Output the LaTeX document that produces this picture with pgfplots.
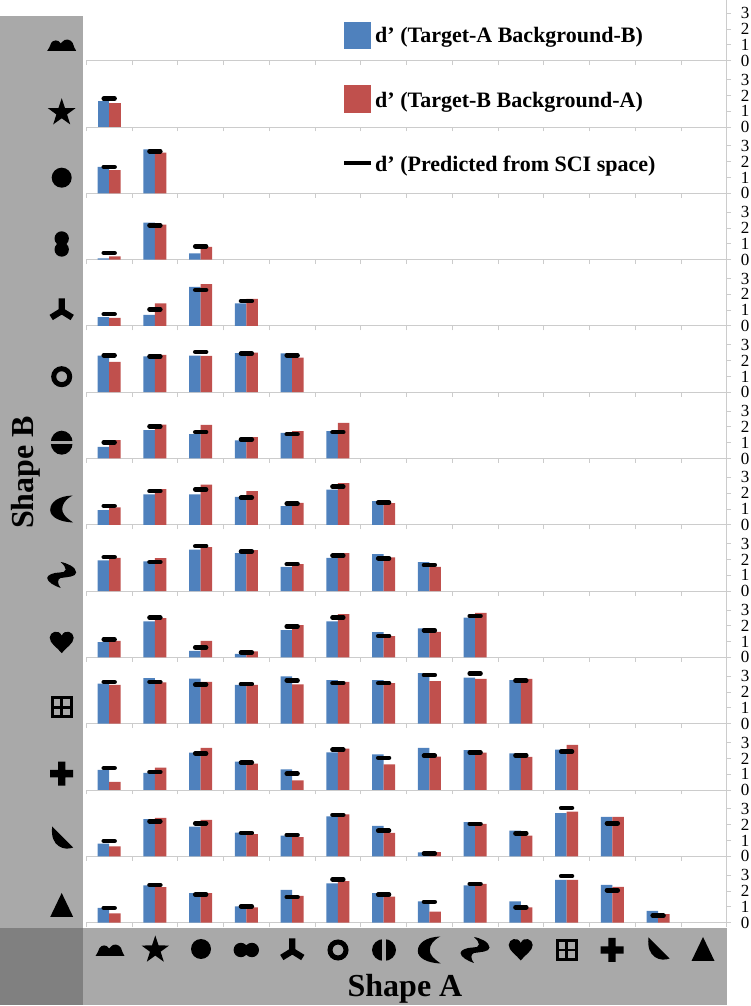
\documentclass[border=0pt]{standalone}
\usepackage{pgfplots}
\usepackage{pgfplotstable}
\usepackage{fontspec}
\setmainfont{Liberation Serif}
\pgfplotsset{compat=1.18}
\definecolor{barblue}{HTML}{4F81BD}
\definecolor{barred}{HTML}{C0504D}
\definecolor{panel}{HTML}{A9A9A9}
\definecolor{paneldark}{HTML}{808080}
\definecolor{axgrey}{HTML}{CCCCCC}

\pgfplotstableread{
x a b p
0.5 1.67 1.50 1.79
}\rowB
\pgfplotstableread{
x a b p
0.5 1.67 1.46 1.67
1.5 2.78 2.57 2.66
}\rowC
\pgfplotstableread{
x a b p
0.5 0.08 0.21 0.42
1.5 2.34 2.22 2.17
2.5 0.40 0.80 0.84
}\rowD
\pgfplotstableread{
x a b p
0.5 0.55 0.51 0.74
1.5 0.70 1.43 1.05
2.5 2.47 2.64 2.28
3.5 1.43 1.71 1.58
}\rowE
\pgfplotstableread{
x a b p
0.5 2.32 1.92 2.34
1.5 2.26 2.36 2.26
2.5 2.32 2.30 2.55
3.5 2.47 2.51 2.45
4.5 2.45 2.19 2.34
}\rowF
\pgfplotstableread{
x a b p
0.5 0.74 1.16 1.03
1.5 1.79 2.15 2.03
2.5 1.54 2.13 1.67
3.5 1.14 1.35 1.20
4.5 1.62 1.73 1.54
5.5 1.73 2.26 1.67
}\rowG
\pgfplotstableread{
x a b p
0.5 0.93 1.10 1.20
1.5 1.92 2.26 2.13
2.5 1.92 2.55 2.24
3.5 1.77 2.13 1.71
4.5 1.18 1.39 1.33
5.5 2.22 2.64 2.41
6.5 1.50 1.37 1.41
}\rowH
\pgfplotstableread{
x a b p
0.5 1.94 2.11 2.15
1.5 1.88 2.09 1.84
2.5 2.62 2.78 2.85
3.5 2.41 2.59 2.51
4.5 1.54 1.71 1.71
5.5 2.11 2.41 2.24
6.5 2.34 2.13 2.07
7.5 1.84 1.54 1.65
}\rowI
\pgfplotstableread{
x a b p
0.5 0.97 1.05 1.14
1.5 2.28 2.49 2.51
2.5 0.42 1.05 0.63
3.5 0.23 0.38 0.32
4.5 1.73 2.05 1.96
5.5 2.28 2.74 2.53
6.5 1.60 1.35 1.35
7.5 1.84 1.62 1.71
8.5 2.51 2.81 2.62
}\rowJ
\pgfplotstableread{
x a b p
0.5 2.53 2.45 2.64
1.5 2.89 2.62 2.64
2.5 2.85 2.64 2.47
3.5 2.45 2.45 2.51
4.5 3.00 2.49 2.74
5.5 2.76 2.64 2.57
6.5 2.76 2.57 2.57
7.5 3.20 2.70 3.08
8.5 2.91 2.83 3.17
9.5 2.76 2.83 2.72
}\rowK
\pgfplotstableread{
x a b p
0.5 1.27 0.51 1.39
1.5 1.08 1.41 1.14
2.5 2.36 2.66 2.32
3.5 1.79 1.67 1.73
4.5 1.31 0.61 1.03
5.5 2.38 2.62 2.55
6.5 2.26 1.62 2.03
7.5 2.66 2.11 2.17
8.5 2.53 2.36 2.38
9.5 2.32 2.09 2.19
10.5 2.55 2.85 2.43
}\rowL
\pgfplotstableread{
x a b p
0.5 0.80 0.63 0.97
1.5 2.36 2.43 2.22
2.5 1.88 2.30 2.09
3.5 1.50 1.41 1.48
4.5 1.31 1.22 1.35
5.5 2.53 2.66 2.62
6.5 1.92 1.48 1.62
7.5 0.25 0.27 0.17
8.5 2.17 2.05 2.05
9.5 1.62 1.31 1.46
10.5 2.74 2.83 3.06
11.5 2.49 2.49 2.09
}\rowM
\pgfplotstableread{
x a b p
0.5 0.93 0.59 0.93
1.5 2.36 2.24 2.38
2.5 1.86 1.86 1.77
3.5 1.03 0.97 1.03
4.5 2.07 1.69 1.62
5.5 2.49 2.62 2.74
6.5 1.86 1.65 1.77
7.5 1.35 0.70 1.31
8.5 2.36 2.45 2.45
9.5 1.35 0.97 0.97
10.5 2.70 2.70 2.95
11.5 2.38 2.26 2.05
12.5 0.74 0.53 0.44
}\rowN

\pgfplotsset{rowstyle/.style={
  scale only axis, width=640.4pt, height=66.3pt,
  anchor=south west,
  xmin=0, xmax=14, ymin=0, ymax=4.196,
  axis x line=bottom, axis y line=right,
  axis line style={-, draw=axgrey, line width=0.9pt},
  xtick={0,...,14}, xticklabels={},
  ytick={0,1,2,3},
  tick align=outside,
  major tick length=4.5pt,
  tick style={draw=axgrey, line width=0.8pt},
  /pgf/number format/assume math mode=true,
  yticklabel style={font=\fontsize{17}{17}\selectfont, text=black, anchor=west, inner sep=0pt, xshift=9.5pt},
  clip=false,
}}
\newcommand{\rowbars}[1]{%
  \addplot[ybar, bar width=11.5pt, bar shift=-5.75pt, fill=barblue, draw=none] table[x=x,y=a] {#1};
  \addplot[ybar, bar width=11.5pt, bar shift=5.75pt, fill=barred, draw=none] table[x=x,y=b] {#1};
  \addplot[only marks, mark=-, mark size=5.4pt, mark options={draw=black, line width=4.6pt, line cap=round}] table[x=x,y=p] {#1};
}

% icons, centred on the origin
\newcommand{\icBumps}{\fill (-14.5,-6) .. controls (-12.5,-4) and (-12,-1) .. (-10.5,2) .. controls (-9,5) and (-3,6) .. (-1,1.5) .. controls (0,3) and (0,3) .. (1,3.5) .. controls (3,6.5) and (9,6) .. (11,2) .. controls (12,-1) and (13,-4) .. (14.5,-6) -- cycle;}
\newcommand{\icStar}{\fill (90:14.5)--(126:5.6)--(162:14.5)--(198:5.6)--(234:14.5)--(270:5.6)--(306:14.5)--(342:5.6)--(18:14.5)--(54:5.6)--cycle;}
\newcommand{\icCircle}{\fill (0,0) circle (10);}
\newcommand{\icDouble}{\fill (-5.5,0) circle (7.2) (5.5,0) circle (7.2);}
\newcommand{\icY}{\draw[line width=6.2pt, line join=round] (0,-1)--(0,11.5) (0,-1)--(-10.5,-7.5) (0,-1)--(10.5,-7.5);}
\newcommand{\icRing}{\draw[line width=5pt] (0,0) circle (8);}
\newcommand{\icHalf}{\fill (0,0) ellipse (12 and 11); \fill[panel] (-1.7,-12) rectangle (1.7,12);}
\newcommand{\icMoon}{\fill (11,13.5) .. controls (-3,13) and (-11.5,7) .. (-11.5,-1) .. controls (-11.5,-8) and (-2,-13) .. (11.5,-13.5) .. controls (3,-8) and (0.5,-4) .. (0.5,0) .. controls (0.5,5) and (4,10) .. (11,13.5) -- cycle;}
\newcommand{\icSquig}{\fill (-1,13) .. controls (5,12) and (14.5,8) .. (14.5,2.5) .. controls (14.5,-2) and (5,-2) .. (-1,-3) .. controls (-4.5,-4) and (-4.5,-9) .. (-1,-13) .. controls (-7,-11) and (-14.5,-7) .. (-14.5,-3) .. controls (-14.5,0) and (-8,2.5) .. (-2,2.5) .. controls (1,2.5) and (4,3) .. (4,5.5) .. controls (4,8) and (2,10) .. (-1,13) -- cycle;}
\newcommand{\icHeart}{\fill (0,-11.5) .. controls (-4,-6) and (-12,-2) .. (-12,4) .. controls (-12,10) and (-3,13) .. (0,6) .. controls (3,13) and (12,10) .. (12,4) .. controls (12,-2) and (4,-6) .. (0,-11.5) -- cycle;}
\newcommand{\icGrid}{\draw[line width=2.6pt] (-9.5,-9.5) rectangle (9.5,9.5) (0,-9.5)--(0,9.5) (-9.5,0)--(9.5,0);}
\newcommand{\icPlus}{\fill (-3.7,-12)--(3.7,-12)--(3.7,-3.7)--(11.5,-3.7)--(11.5,3.7)--(3.7,3.7)--(3.7,12)--(-3.7,12)--(-3.7,3.7)--(-11.5,3.7)--(-11.5,-3.7)--(-3.7,-3.7)--cycle;}
\newcommand{\icWedge}{\fill (-9.5,11.5) -- (11.5,-9.5) .. controls (3,-13) and (-12,-9) .. cycle;}
\newcommand{\icTri}{\fill (0,12)--(11.5,-12)--(-11.5,-12)--cycle;}
\newcommand{\ic}[4][0]{\begin{scope}[shift={(#2,{1006-#3})}, rotate=#1]#4\end{scope}}

\begin{document}
\begin{tikzpicture}[x=1pt,y=1pt]
\path[use as bounding box] (0,0) rectangle (750,1006);
% panels
\fill[panel] (0,1006-16) rectangle (83,1006-928);
\fill[panel] (83,1006-928) rectangle (726.7,1006-1005);
\fill[paneldark] (0,1006-928) rectangle (83,1006-1005);

\begin{axis}[rowstyle, at={(86.3pt,945.3pt)}]
\end{axis}
\begin{axis}[rowstyle, at={(86.3pt,879pt)}]\rowbars{\rowB}\end{axis}
\begin{axis}[rowstyle, at={(86.3pt,812.7pt)}]\rowbars{\rowC}\end{axis}
\begin{axis}[rowstyle, at={(86.3pt,746.4pt)}]\rowbars{\rowD}\end{axis}
\begin{axis}[rowstyle, at={(86.3pt,680.1pt)}]\rowbars{\rowE}\end{axis}
\begin{axis}[rowstyle, at={(86.3pt,613.8pt)}]\rowbars{\rowF}\end{axis}
\begin{axis}[rowstyle, at={(86.3pt,547.5pt)}]\rowbars{\rowG}\end{axis}
\begin{axis}[rowstyle, at={(86.3pt,481.2pt)}]\rowbars{\rowH}\end{axis}
\begin{axis}[rowstyle, at={(86.3pt,414.9pt)}]\rowbars{\rowI}\end{axis}
\begin{axis}[rowstyle, at={(86.3pt,348.6pt)}]\rowbars{\rowJ}\end{axis}
\begin{axis}[rowstyle, at={(86.3pt,282.3pt)}]\rowbars{\rowK}\end{axis}
\begin{axis}[rowstyle, at={(86.3pt,216pt)}]\rowbars{\rowL}\end{axis}
\begin{axis}[rowstyle, at={(86.3pt,149.7pt)}]\rowbars{\rowM}\end{axis}
\begin{axis}[rowstyle, at={(86.3pt,83.4pt)}]\rowbars{\rowN}\end{axis}

% legend
\fill[barblue] (344,1006-21.7) rectangle (371.3,1006-48.7);
\fill[barred] (344,1006-85.3) rectangle (371.3,1006-112.7);
\fill[black] (344,1006-161) rectangle (371.3,1006-165.3);
\def\legfont{\fontsize{22}{22}\selectfont\bfseries}
\node[anchor=base west, inner sep=0pt, font=\legfont] at (375,1006-43) {d’ (Target-A Background-B)};
\node[anchor=base west, inner sep=0pt, font=\legfont] at (375,1006-108) {d’ (Target-B Background-A)};
\node[anchor=base west, inner sep=0pt, font=\legfont] at (375,1006-172) {d’ (Predicted from SCI space)};

% axis titles
\node[anchor=base, rotate=90, inner sep=0pt, font=\fontsize{32}{32}\selectfont\bfseries] at (33.5,1006-472.5) {Shape B};
\node[anchor=base, inner sep=0pt, font=\fontsize{32}{32}\selectfont\bfseries] at (405,1006-996.7) {Shape A};

% Shape B icons
\ic{61.7}{45}{\icBumps}
\ic{61.7}{112.7}{\icStar}
\ic{61.7}{177.7}{\icCircle}
\ic[90]{61.7}{244}{\icDouble}
\ic{61.7}{310}{\icY}
\ic{61.7}{376.7}{\icRing}
\ic[90]{61.7}{442.7}{\icHalf}
\ic{61.7}{509}{\icMoon}
\ic{61.7}{575}{\icSquig}
\ic{61.7}{641.7}{\icHeart}
\ic{61.7}{707.3}{\icGrid}
\ic{61.7}{773.7}{\icPlus}
\ic{61.7}{838}{\icWedge}
\ic{61.7}{905}{\icTri}
% Shape A icons
\ic{110}{950}{\icBumps}
\ic{155.3}{950}{\icStar}
\ic{201}{949}{\icCircle}
\ic{246.3}{950}{\icDouble}
\ic{292.3}{950}{\icY}
\ic{338}{950}{\icRing}
\ic{384}{950}{\icHalf}
\ic{429.3}{950}{\icMoon}
\ic{475}{950}{\icSquig}
\ic{520.7}{949}{\icHeart}
\ic{566.7}{950}{\icGrid}
\ic{612}{950}{\icPlus}
\ic{658}{949}{\icWedge}
\ic{703}{949}{\icTri}
\end{tikzpicture}
\end{document}
